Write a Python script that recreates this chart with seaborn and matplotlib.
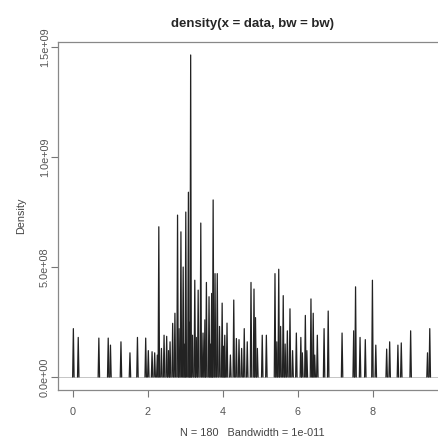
import numpy as np
import pandas as pd
import seaborn as sns
import matplotlib.pyplot as plt

# spike positions (bw is tiny, so every point is a spike)
spike_x = [0.01, 0.14, 0.69, 0.94, 1.00, 1.28, 1.52, 1.72, 1.94, 2.01, 2.11, 2.18,
           2.25, 2.29, 2.36, 2.43, 2.50, 2.55, 2.59, 2.66, 2.72, 2.79, 2.83, 2.88,
           2.94, 2.98, 3.01, 3.08, 3.11, 3.14, 3.19, 3.25, 3.29, 3.34, 3.41, 3.47,
           3.52, 3.56, 3.63, 3.67, 3.70, 3.74, 3.79, 3.85, 3.91, 3.98, 4.02, 4.05,
           4.11, 4.20, 4.29, 4.36, 4.43, 4.50, 4.57, 4.65, 4.75, 4.83, 4.87, 4.92,
           5.05, 5.16, 5.39, 5.44, 5.49, 5.54, 5.61, 5.66, 5.72, 5.79, 5.86, 5.96,
           6.08, 6.12, 6.20, 6.24, 6.35, 6.41, 6.45, 6.52, 6.70, 6.81, 7.18, 7.49,
           7.54, 7.66, 7.80, 7.99, 8.08, 8.37, 8.45, 8.67, 8.76, 9.01, 9.46, 9.52]
spike_h = [2.2e8, 1.8e8, 1.77e8, 1.77e8, 1.45e8, 1.6e8, 1.1e8, 1.8e8, 1.77e8, 1.2e8, 1.15e8, 1.1e8,
           1.0e8, 6.83e8, 1.3e8, 1.9e8, 1.85e8, 1.2e8, 1.6e8, 2.44e8, 2.9e8, 7.36e8, 2.2e8, 6.6e8,
           5.0e8, 1.5e8, 7.5e8, 8.4e8, 2.5e8, 14.64e8, 1.9e8, 4.4e8, 1.8e8, 3.95e8, 7.0e8, 2.0e8,
           2.6e8, 4.3e8, 3.65e8, 1.5e8, 3.8e8, 8.05e8, 4.7e8, 4.7e8, 2.3e8, 3.36e8, 1.4e8, 1.9e8,
           2.45e8, 1.0e8, 3.5e8, 1.75e8, 1.7e8, 1.3e8, 2.2e8, 1.6e8, 4.3e8, 4.0e8, 2.7e8, 1.3e8,
           1.9e8, 1.9e8, 4.7e8, 1.6e8, 4.9e8, 2.3e8, 3.7e8, 1.5e8, 2.1e8, 3.1e8, 1.2e8, 2.0e8,
           1.8e8, 1.1e8, 2.8e8, 1.2e8, 3.55e8, 2.9e8, 1.0e8, 1.9e8, 2.2e8, 3.0e8, 2.0e8, 2.1e8,
           4.1e8, 1.8e8, 1.7e8, 4.4e8, 1.45e8, 1.27e8, 1.6e8, 1.45e8, 1.55e8, 2.1e8, 1.1e8, 2.2e8]

x_ticks = [0, 2, 4, 6, 8]
y_ticks = [0, 5e8, 1e9, 1.5e9]
y_ticklabels = ['0.0e+00', '5.0e+08', '1.0e+09', '1.5e+09']

grid_step = 0.019  # spacing of the 512-point density grid

rows = []
for i, (x, h) in enumerate(zip(spike_x, spike_h)):
    rows.append((i, x - grid_step, 0.0))
    rows.append((i, x, h))
    rows.append((i, x + grid_step, 0.0))
df = pd.DataFrame(rows, columns=['spike', 'x', 'y'])

sns.set_style('white')
plt.rcParams['font.family'] = ['Liberation Sans', 'DejaVu Sans']

fig = plt.figure(figsize=(4.39, 4.43), dpi=100)
ax = fig.add_axes([58 / 439, 1 - 390 / 443, 389 / 439, 348 / 443])

ax.axhline(0, color='#bbbbbb', lw=0.6, zorder=1)
sns.lineplot(data=df, x='x', y='y', units='spike', estimator=None, sort=False,
             color='#222222', lw=0.9, ax=ax, zorder=2)

ax.set_xlim(-0.4, 9.98)
ax.set_ylim(-0.059e9, 1.523e9)

ax.set_xticks(x_ticks)
ax.set_xticklabels([str(t) for t in x_ticks])
ax.set_yticks(y_ticks)
ax.set_yticklabels(y_ticklabels, rotation=90, va='center')
ax.tick_params(axis='x', direction='out', length=5, width=0.8, color='#777777',
               labelsize=7.8, labelcolor='#555555', bottom=True, pad=7)
ax.tick_params(axis='y', direction='out', length=5, width=0.8, color='#777777',
               labelsize=7.8, labelcolor='#555555', left=True, pad=1)

for s in ax.spines.values():
    s.set_color('#888888')
    s.set_linewidth(0.9)

ax.set_xlabel('N = 180   Bandwidth = 1e-011', fontsize=7.8, color='#444444', labelpad=8)
ax.set_ylabel('Density', fontsize=7.8, color='#444444', labelpad=10)
ax.set_title('density(x = data, bw = bw)', fontsize=9.5, fontweight='bold', pad=11)

fig.savefig('out.png', dpi=100)
